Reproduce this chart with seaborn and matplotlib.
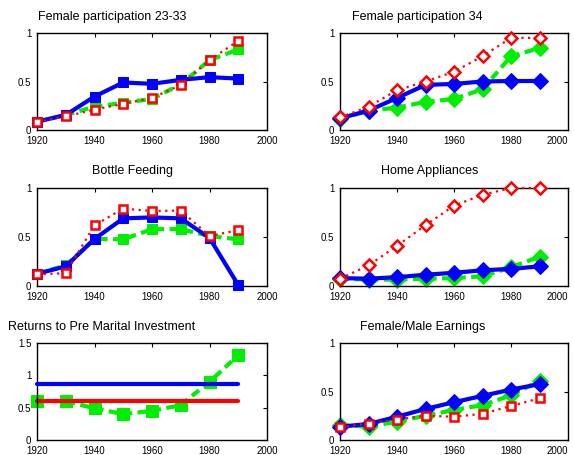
import matplotlib
matplotlib.use("Agg")
import matplotlib.pyplot as plt
import seaborn as sns
import pandas as pd

sns.set_style("white")
plt.rcParams['font.family'] = ['Liberation Sans', 'DejaVu Sans']

years = [1920, 1930, 1940, 1950, 1960, 1970, 1980, 1990]

p1_blue = [0.086, 0.155, 0.345, 0.49, 0.476, 0.517, 0.545, 0.53]
p1_green = [0.086, 0.155, 0.24, 0.28, 0.32, 0.47, 0.72, 0.83]
p1_red = [0.086, 0.14, 0.21, 0.27, 0.33, 0.465, 0.72, 0.92]

p2_blue = [0.12, 0.2, 0.33, 0.465, 0.475, 0.5, 0.505, 0.505]
p2_green = [0.11, 0.2, 0.23, 0.29, 0.32, 0.42, 0.76, 0.845]
p2_red = [0.13, 0.24, 0.41, 0.5, 0.6, 0.76, 0.95, 0.95]

p3_blue = [0.125, 0.2, 0.48, 0.69, 0.70, 0.69, 0.49, 0.01]
p3_green = [0.125, 0.21, 0.48, 0.476, 0.58, 0.58, 0.51, 0.476]
p3_red = [0.12, 0.13, 0.62, 0.79, 0.765, 0.77, 0.51, 0.57]

p4_blue = [0.08, 0.075, 0.09, 0.115, 0.135, 0.16, 0.175, 0.2]
p4_green = [0.075, 0.065, 0.065, 0.075, 0.08, 0.1, 0.19, 0.30]
p4_red = [0.075, 0.21, 0.41, 0.62, 0.82, 0.93, 1.0, 1.0]

p5_blue = [0.86] * 8
p5_green = [0.6, 0.6, 0.49, 0.4, 0.45, 0.54, 0.9, 1.31]
p5_red = [0.6] * 8

p6_blue = [0.137, 0.165, 0.24, 0.32, 0.39, 0.455, 0.52, 0.575]
p6_green = [0.155, 0.137, 0.19, 0.25, 0.31, 0.36, 0.46, 0.61]
p6_red = [0.13, 0.17, 0.21, 0.25, 0.24, 0.27, 0.35, 0.43]

titles = ["Female participation 23-33", "Female participation 34", "Bottle Feeding",
          "Home Appliances", "Returns to Pre Marital Investment", "Female/Male Earnings"]
title_x = [0.004, 0.053, 0.24, 0.18, -0.126, 0.088]

panels = [
    (p1_blue, p1_green, p1_red, 's', 's', 's'),
    (p2_blue, p2_green, p2_red, 'D', 'D', 'D'),
    (p3_blue, p3_green, p3_red, 's', 's', 's'),
    (p4_blue, p4_green, p4_red, 'D', 'D', 'D'),
    (p5_blue, p5_green, p5_red, None, 's', None),
    (p6_blue, p6_green, p6_red, 'D', 'D', 's'),
]

fig = plt.figure(figsize=(5.74, 4.55), dpi=100)
lefts = [37 / 574, 340 / 574]
widths = [230 / 574, 228 / 574]
rows = [(33, 130), (188, 286), (343, 440)]

blue = '#0000ff'
green = '#00ee00'
red = '#ff0000'

for i, (b, g, r, mb, mg, mr) in enumerate(panels):
    row, col = divmod(i, 2)
    top, bot = rows[row]
    ax = fig.add_axes([lefts[col], 1 - bot / 455, widths[col], (bot - top) / 455])
    df = pd.DataFrame({'year': years, 'b': b, 'g': g, 'r': r})
    ms = 7 if mb == 's' else 8
    sns.lineplot(data=df, x='year', y='b', ax=ax, color=blue, lw=3, clip_on=False,
                 marker=mb, markersize=ms, markeredgecolor=blue, markerfacecolor=blue, zorder=3)
    sns.lineplot(data=df, x='year', y='g', ax=ax, color=green, lw=3, dashes=(2.2, 1.3), clip_on=False,
                 marker=mg, markersize=ms, markeredgecolor=green, markerfacecolor=green, zorder=2)
    if mr is None:
        sns.lineplot(data=df, x='year', y='r', ax=ax, color=red, lw=3, zorder=2, clip_on=False)
    else:
        sns.lineplot(data=df, x='year', y='r', ax=ax, color=red, lw=1.6, linestyle=(0, (1, 2)),
                     marker=mr, markersize=6, markeredgecolor=red, markerfacecolor='white',
                     markeredgewidth=1.8, zorder=4, clip_on=False)
    ax.set_xlim(1920, 2000)
    ax.set_xticks([1920, 1940, 1960, 1980, 2000])
    ax.set_xticklabels(['1920', '1940', '1960', '1980', '2000'])
    if col == 1:
        ax.get_xticklabels()[-1].set_horizontalalignment('right')
    if i == 4:
        ax.set_ylim(0, 1.5)
        ax.set_yticks([0, 0.5, 1, 1.5])
        ax.set_yticklabels(['0', '0.5', '1', '1.5'])
    else:
        ax.set_ylim(0, 1)
        ax.set_yticks([0, 0.5, 1])
        ax.set_yticklabels(['0', '0.5', '1'])
    ax.set_xlabel('')
    ax.set_ylabel('')
    ax.tick_params(direction='in', top=True, right=True, length=3, width=0.8,
                   labelsize=7, colors='black')
    ax.tick_params(axis='x', pad=4)
    ax.tick_params(axis='y', pad=4)
    for s in ax.spines.values():
        s.set_color('black')
        s.set_linewidth(1.0)
    ax.text(title_x[i], 1.17, titles[i], transform=ax.transAxes, ha='left', va='center',
            fontsize=9, color='black')

fig.savefig('out.png', dpi=100, facecolor='white')
